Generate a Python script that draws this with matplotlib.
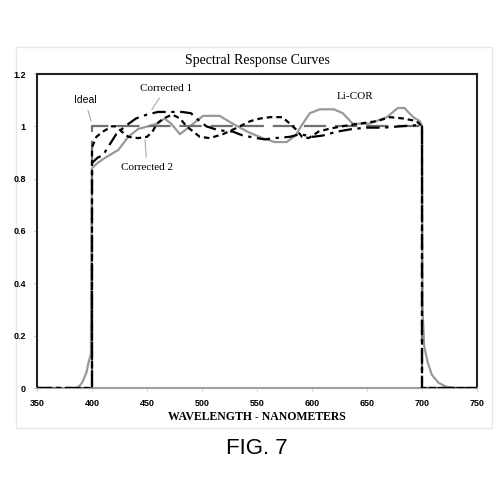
import numpy as np
import matplotlib
matplotlib.use("Agg")
import matplotlib.pyplot as plt
from matplotlib.patches import Rectangle
from matplotlib.ticker import FuncFormatter

# -------------------------------
# DATA
# -------------------------------
ideal_nm = [350, 400, 400, 700, 700, 750]
ideal_val = [0, 0, 1.0, 1.0, 0, 0]

licor_nm = [350, 387, 391, 395, 397, 399, 400, 405, 412, 424, 433, 442, 451, 459,
            466, 472, 480, 489, 501, 516, 528, 541, 555, 566, 577, 585, 590, 598,
            607, 620, 628, 637, 652, 668, 678, 684, 692, 698, 700, 700.5, 702, 705,
            709, 715, 722, 730, 750]
licor_val = [0, 0, 0.02, 0.06, 0.10, 0.13, 0.84, 0.86, 0.88, 0.91, 0.96, 0.99, 1.0, 1.01,
             1.03, 1.01, 0.97, 1.0, 1.04, 1.04, 1.01, 0.98, 0.955, 0.94, 0.94, 0.965, 1.0, 1.05,
             1.065, 1.065, 1.05, 1.01, 1.01, 1.035, 1.07, 1.07, 1.035, 1.02, 1.0, 0.3, 0.16, 0.10,
             0.05, 0.02, 0.005, 0, 0]

corr1_nm = [350, 400, 400, 405, 410, 416, 422, 430, 440, 450, 460, 471, 482, 490, 495,
            504, 515, 528, 537, 550, 557, 566, 580, 589, 601, 610, 623, 637, 650, 665,
            680, 698, 700, 700, 750]
corr1_val = [0, 0, 0.86, 0.88, 0.89, 0.93, 0.97, 1.0, 1.03, 1.045, 1.055, 1.055, 1.055, 1.05, 1.03,
             1.0, 0.985, 0.98, 0.965, 0.955, 0.95, 0.955, 0.96, 0.97, 0.96, 0.965, 0.98, 0.99, 0.995, 0.995,
             1.0, 1.005, 1.0, 0, 0]

corr2_nm = [350, 400, 400, 404, 410, 418, 422, 427, 433, 442, 450, 455, 459, 465, 473,
            480, 486, 492, 498, 507, 519, 532, 544, 553, 562, 573, 580, 585, 591, 597,
            606, 615, 627, 643, 659, 671, 683, 695, 700, 700, 750]
corr2_val = [0, 0, 0.92, 0.96, 0.98, 1.0, 1.0, 0.98, 0.96, 0.955, 0.96, 0.98, 1.01, 1.03, 1.045,
             1.03, 1.0, 0.98, 0.96, 0.955, 0.97, 0.995, 1.02, 1.03, 1.035, 1.035, 1.01, 0.99, 0.96, 0.955,
             0.98, 0.99, 1.0, 1.01, 1.02, 1.035, 1.03, 1.02, 1.0, 0, 0]

x_ticks = [350, 400, 450, 500, 550, 600, 650, 700, 750]
y_ticks = [0, 0.2, 0.4, 0.6, 0.8, 1.0, 1.2]

# -------------------------------
# FIGURE
# -------------------------------
fig = plt.figure(figsize=(5, 5), dpi=100)
frame = Rectangle((16 / 500, 72 / 500), 476 / 500, 381 / 500,
                  transform=fig.transFigure, fill=False,
                  edgecolor="#e8e8e8", linewidth=1.0, zorder=-1)
fig.patches.append(frame)

ax = fig.add_axes([37 / 500, 112 / 500, 440 / 500, 314 / 500])

ax.plot(licor_nm, licor_val, color="#999999", lw=1.6, zorder=2)
ax.plot(ideal_nm, ideal_val, color="#707070", lw=1.6, dashes=(10, 4), zorder=3)
ax.plot(corr2_nm, corr2_val, color="black", lw=1.6, dashes=(2.5, 1.8), zorder=4)
ax.plot(corr1_nm, corr1_val, color="black", lw=1.6, dashes=(6, 2.5, 1.5, 2.5), zorder=5)

ax.set_xlim(350, 750)
ax.set_ylim(0, 1.2)
ax.set_xticks(x_ticks)
ax.set_yticks(y_ticks)
ax.yaxis.set_major_formatter(FuncFormatter(lambda v, p: f"{v:g}"))
ax.tick_params(length=3, width=0.8, color="#dddddd", labelsize=6.5, pad=5)
for lab in ax.get_xticklabels() + ax.get_yticklabels():
    lab.set_fontweight("bold")
    lab.set_family("Liberation Sans")

for side in ["top", "right", "left"]:
    ax.spines[side].set_color("#222222")
    ax.spines[side].set_linewidth(1.5)
ax.spines["bottom"].set_color("#a0a0a0")
ax.spines["bottom"].set_linewidth(1.5)

ax.set_xlabel("WAVELENGTH - NANOMETERS", family="Liberation Serif",
              fontweight="bold", fontsize=8.5, labelpad=2)
ax.set_title("Spectral Response Curves", family="Liberation Serif", fontsize=10, pad=7)

# labels with pointer lines
arrow = dict(arrowstyle="-", color="#aaaaaa", lw=0.8)
ax.annotate("Ideal", xy=(400, 1.01), xytext=(393.5, 1.10), family="Liberation Sans",
            fontsize=7.5, ha="center", va="center", arrowprops=arrow)
ax.annotate("Corrected 1", xy=(453, 1.055), xytext=(467, 1.145), family="Liberation Serif",
            fontsize=8, ha="center", va="center", arrowprops=arrow)
ax.annotate("Corrected 2", xy=(448, 0.96), xytext=(450, 0.843), family="Liberation Serif",
            fontsize=8, ha="center", va="center", arrowprops=arrow)
ax.text(639, 1.115, "Li-COR", family="Liberation Serif", fontsize=8, ha="center", va="center")

fig.text(257 / 500, 1 - 448 / 500, "FIG. 7", family="Liberation Sans", fontsize=16,
         ha="center", va="center")

fig.savefig("out.png", dpi=100)
